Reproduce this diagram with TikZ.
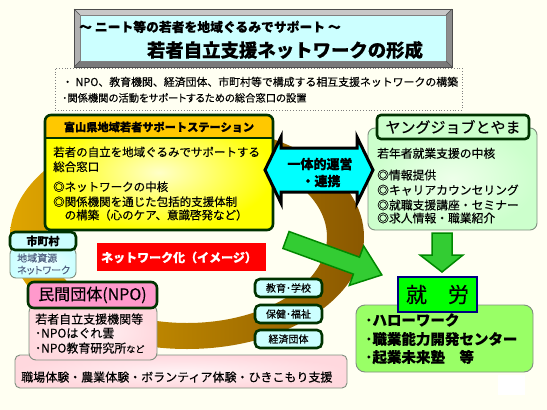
\documentclass[tikz,border=0pt]{standalone}
\usepackage{fontspec}
\setmainfont{Noto Sans CJK JP}[FakeBold=0.3]
\newfontfamily\pfont{Noto Sans CJK JP}[RawFeature=+palt, FakeBold=0.3]
\newcommand\myfs[1]{\fontsize{#1}{#1}\selectfont}
\definecolor{bgc}{HTML}{FFFFF2}
\definecolor{dgreen}{HTML}{003300}
\definecolor{ringgold}{HTML}{DFA500}
\definecolor{ringbrown}{HTML}{8A5800}
\definecolor{hdrorange}{HTML}{FFC800}
\definecolor{yfull}{HTML}{FFFF00}
\definecolor{ylight}{HTML}{FFFFC8}
\definecolor{hexcyan}{HTML}{00FFFF}
\definecolor{lcyan}{HTML}{CCFFFF}
\definecolor{lcyanin}{HTML}{F0FFFF}
\definecolor{gbody}{HTML}{CCFFCC}
\definecolor{gbodyin}{HTML}{EEFFEA}
\definecolor{pinkhdr}{HTML}{FF99CC}
\definecolor{pinkbody}{HTML}{FFD8DE}
\definecolor{pinkin}{HTML}{FFF2F4}
\definecolor{shuro}{HTML}{00FF00}
\definecolor{shurobody}{HTML}{99FF66}
\definecolor{agreen}{HTML}{33CC33}
\definecolor{agreenb}{HTML}{008800}
\definecolor{softgray}{HTML}{7F8F7F}
\definecolor{bluegray}{HTML}{4F6080}
\definecolor{bevtop}{HTML}{C8C8C8}
\definecolor{bevleft}{HTML}{B0B0B0}
\definecolor{bevright}{HTML}{8C8C8C}
\definecolor{bevbot}{HTML}{7A7A7A}
\begin{document}
\begin{tikzpicture}[x=1pt,y=-1pt,
  tl/.style={inner sep=0pt, anchor=base west},
  tc/.style={inner sep=0pt, anchor=base},
  hbox/.style={draw=dgreen, line width=2.6pt, rounded corners=5pt, inner sep=0pt},
  sbox/.style={draw=softgray, line width=0.9pt, rounded corners=7pt, inner sep=0pt},
  garrow/.style={draw=agreenb, line width=1.5pt, fill=agreen, line join=miter}]
\useasboundingbox (0,0) rectangle (547,410);
\fill[bgc] (0,0) rectangle (547,410);
\fill[white] (498,375) rectangle (525,395);

% ring
\shade[even odd rule, left color=ringgold, right color=ringbrown]
  (187,237) ellipse [x radius=177pt, y radius=112pt]
  (187,237) ellipse [x radius=140pt, y radius=86pt];

% title bevel
\fill[bevtop] (74,9) -- (452,9) -- (446,15) -- (80,15) -- cycle;
\fill[bevleft] (74,9) -- (80,15) -- (80,61) -- (74,67) -- cycle;
\fill[bevright] (452,9) -- (452,67) -- (446,61) -- (446,15) -- cycle;
\fill[bevbot] (74,67) -- (452,67) -- (446,61) -- (80,61) -- cycle;
\node[fill=lcyan, draw=gray, line width=0.5pt, minimum width=366pt, minimum height=46pt, inner sep=0pt] (title) at (263,38) {};
\draw[gray!60!black, line width=0.6pt] (74,9) rectangle (452,67);
\draw[gray!60!black, line width=0.4pt] (74,9) -- (80,15) (452,9) -- (446,15) (74,67) -- (80,61) (452,67) -- (446,61);
\node[tl, font=\bfseries\myfs{12.8}] (t1) at (79,31.8) {～ ニート等の若者を地域ぐるみでサポート ～};
\node[tc, font=\bfseries\myfs{18.4}] (t2) at (285,57) {若者自立支援ネットワークの形成};

% dotted box
\node[draw=gray, dotted, line width=0.8pt, minimum width=407pt, minimum height=42pt, inner sep=0pt] (dbox) at (258.5,89) {};
\node[tl, font=\myfs{10.9}] (d1) at (62,86) {・ NPO、教育機関、経済団体、市町村等で構成する相互支援ネットワークの構築};
\node[tl, font=\pfont\myfs{10.3}] (d2) at (62,101.8) {･関係機関の活動をサポートするための総合窓口の設置};

% support station (yellow)
\begin{scope}
  \clip[rounded corners=6pt] (45,115) rectangle (273,230);
  \shade[inner color=ylight, outer color=yfull] (45,115) rectangle (273,230);
  \fill[hdrorange] (45,115) rectangle (273,138);
\end{scope}
\node[draw=dgreen, line width=2.6pt, rounded corners=6pt, minimum width=228pt, minimum height=115pt, inner sep=0pt] (ys) at (159,172.5) {};
\draw[dgreen, line width=2pt] (45,138) -- (273,138);
\node[tc, font=\bfseries\myfs{11.2}] (ysh) at (159,131.3) {富山県地域若者サポートステーション};
\node[tl, font=\myfs{11.5}] (ys1) at (53,156.4) {若者の自立を地域ぐるみでサポートする};
\node[tl, font=\myfs{11.5}] (ys2) at (53,171.1) {総合窓口};
\node[tl, font=\myfs{11.5}] (ys3) at (53,191.1) {◎ネットワークの中核};
\node[tl, font=\myfs{11.5}] (ys4) at (53,206.1) {◎関係機関を通じた包括的支援体制};
\node[tl, font=\myfs{11.5}] (ys5) at (53,219.4) {　の構築（心のケア、意識啓発など）};

% young job toyama (green)
\node[sbox, inner color=gbodyin, outer color=gbody, minimum width=169pt, minimum height=102pt] (yj) at (452.5,179) {};
\node[hbox, fill=gbody, rounded corners=4pt, minimum width=152pt, minimum height=24pt, font=\myfs{15}] (yjh) at (453,127) {ヤングジョブとやま};
\node[tl, font=\myfs{11.8}] (yj1) at (377,157.8) {若年者就業支援の中核};
\node[tl, font=\myfs{11.8}] (yj2) at (377,179.5) {◎情報提供};
\node[tl, font=\myfs{11.8}] (yj3) at (377,194.5) {◎キャリアカウンセリング};
\node[tl, font=\myfs{11.8}] (yj4) at (377,209.5) {◎就職支援講座・セミナー};
\node[tl, font=\myfs{11.8}] (yj5) at (377,222.5) {◎求人情報・職業紹介};

% double arrow
\draw[black, line width=3pt, fill=hexcyan, line join=miter]
  (265,170) -- (281,137) -- (281,148) -- (357,148) -- (357,137) -- (373,170)
  -- (357,203) -- (357,192) -- (281,192) -- (281,203) -- cycle;
\node[tc, font=\bfseries\myfs{13}] (hx1) at (320,169) {一体的運営};
\node[tc, font=\bfseries\myfs{13}] (hx2) at (321,186) {・連携};

% diagonal arrow
\begin{scope}[shift={(286,240)}, rotate=-20]
  \draw[garrow] (0,-9) -- (75,-9) -- (75,-21) -- (102,0) -- (75,21) -- (75,9) -- (0,9) -- cycle;
\end{scope}
% down arrow
\draw[garrow] (432,233) -- (452,233) -- (452,255) -- (463,255) -- (442,272) -- (420,255) -- (432,255) -- cycle;

% employment
\node[sbox, fill=shurobody, rounded corners=9pt, minimum width=177pt, minimum height=67pt] (sb) at (444.5,338.5) {};
\node[draw=blue!50!black, line width=1.6pt, fill=shuro, minimum width=79pt, minimum height=35pt, inner sep=0pt, font=\myfs{21}] (sh) at (437.5,294.5) {就　労};
\node[tl, font=\bfseries\myfs{14.5}] (sb1) at (365,325.5) {･ハローワーク};
\node[tl, font=\bfseries\myfs{14.5}] (sb2) at (365,344.5) {･職業能力開発センター};
\node[tl, font=\bfseries\myfs{14.5}] (sb3) at (365,362.5) {･起業未来塾　等};

% municipality
\node[sbox, inner color=lcyanin, outer color=lcyan, rounded corners=6pt, minimum width=66pt, minimum height=30pt] (mb) at (43,263) {};
\node[hbox, fill=lcyan, minimum width=66pt, minimum height=18pt, font=\bfseries\myfs{11}] (mh) at (43,241) {市町村};
\node[tl, font=\myfs{10}, text=bluegray] (m1) at (17,261.8) {地域資源};
\node[tl, font=\pfont\myfs{10}, text=bluegray] (m2) at (17,273.8) {ネットワーク};

% red label
\node[fill=red, minimum width=169pt, minimum height=28pt, inner sep=0pt] (red) at (181.5,257) {};
\node[tc, font=\bfseries\myfs{12}, text=white] (redt) at (179,262) {ネットワーク化（イメージ）};

% bottom box
\node[sbox, inner color=pinkin, outer color=pinkbody, rounded corners=5pt, minimum width=332pt, minimum height=33pt] (bb) at (181,371.5) {};
\node[tl, font=\myfs{12}] (bbt) at (21,381.6) {職場体験・農業体験・ボランティア体験・ひきこもり支援};

% NPO
\node[sbox, inner color=pinkin, outer color=pinkbody, rounded corners=7pt, minimum width=128pt, minimum height=55pt] (nb) at (93,332.5) {};
\node[hbox, fill=pinkhdr, rounded corners=6pt, minimum width=129pt, minimum height=26pt, font=\myfs{16}] (nh) at (92.5,295) {民間団体(NPO)};
\node[tl, font=\myfs{12}] (n1) at (35,323.6) {若者自立支援機関等};
\node[tl, font=\myfs{12}] (n2) at (35,337.6) {･NPOはぐれ雲};
\node[tl, font=\myfs{12}] (n3) at (35,352.6) {･NPO教育研究所{\myfs{9}など}};

% small boxes
\node[hbox, fill=lcyan, minimum width=67pt, minimum height=18pt, font=\myfs{10}] (s1) at (288.5,288) {教育･学校};
\node[hbox, fill=lcyan, minimum width=67pt, minimum height=18pt, font=\myfs{10}] (s2) at (288.5,314) {保健･福祉};
\node[hbox, fill=lcyan, minimum width=67pt, minimum height=18pt, font=\myfs{10}] (s3) at (288.5,339) {経済団体};
\end{tikzpicture}
\end{document}
